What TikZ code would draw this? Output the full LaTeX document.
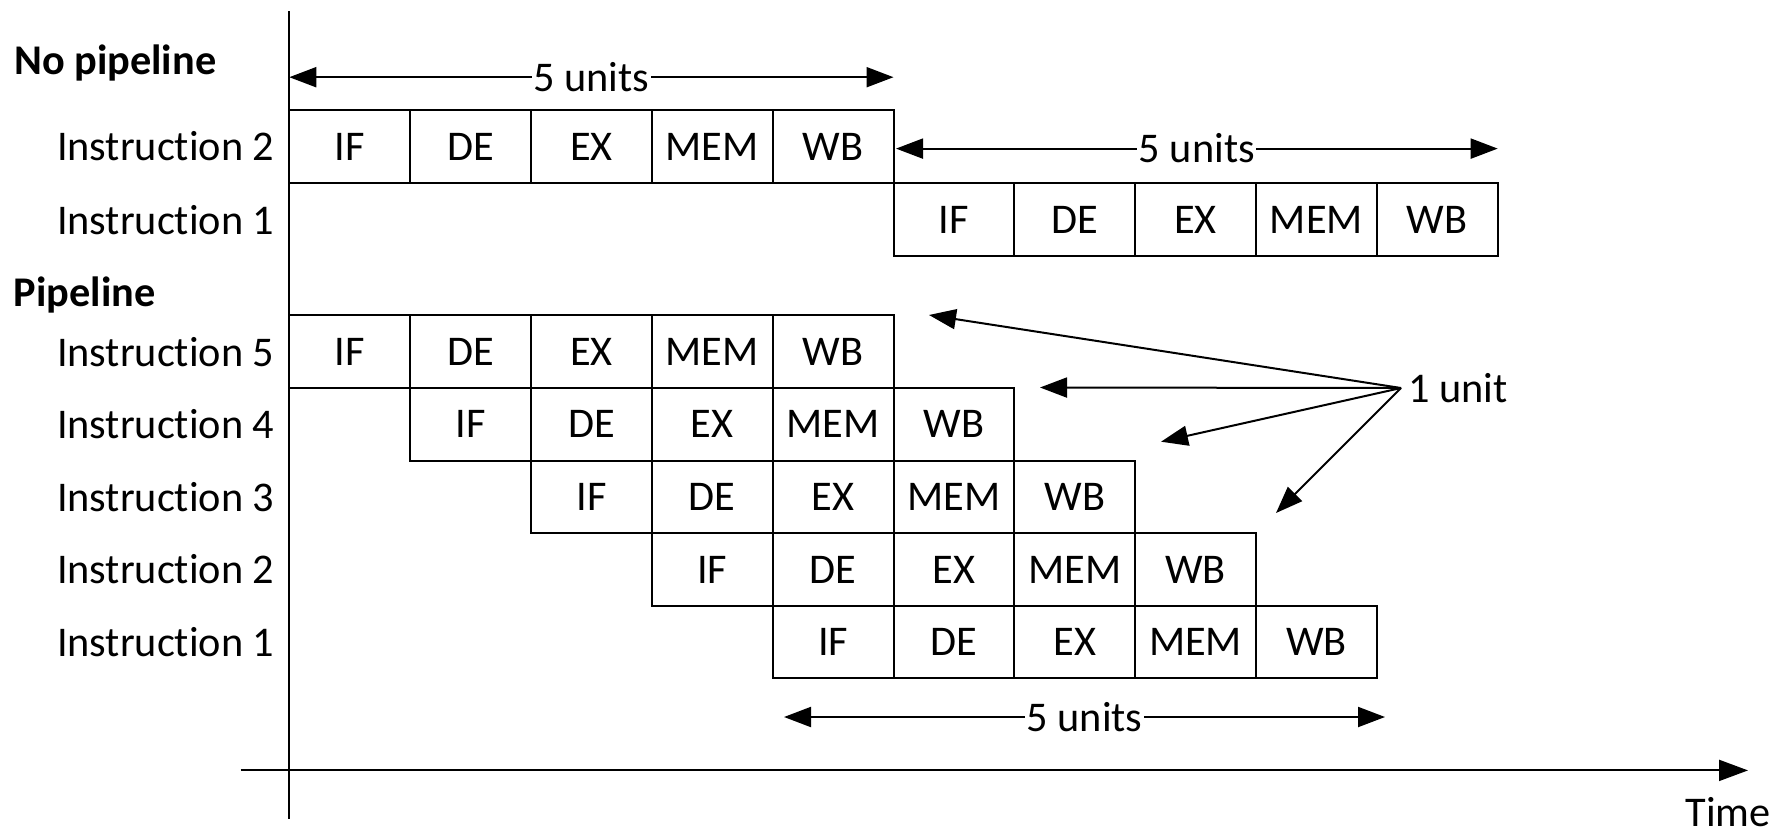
\documentclass[tikz,border=0pt]{standalone}
\usepackage{fontspec}
\setmainfont[RawFeature={-liga;-clig;-dlig;-calt}]{Carlito}
\usetikzlibrary{arrows.meta}
\begin{document}
\begin{tikzpicture}[x=1pt,y=-1pt,
  txt/.style={font=\fontsize{42.3}{48}\selectfont},
  cell/.style={txt, draw, line width=2pt, minimum width=120.84pt, minimum height=73.2pt,
    inner sep=0pt, outer sep=0pt, anchor=north west},
  lbl/.style={txt, anchor=east, inner sep=0pt},
  hdr/.style={font=\fontsize{42.3}{48}\selectfont\bfseries, anchor=base west, inner sep=0pt},
  dimarrow/.style={line width=2pt, {Triangle[length=27pt,width=20pt]}-{Triangle[length=27pt,width=20pt]}},
  dimlbl/.style={txt, fill=white, inner sep=1.5pt},
  ptr/.style={line width=2pt, -{Triangle[length=27pt,width=20pt]}},
  axis/.style={line width=2pt}
]
\useasboundingbox (0,0) rectangle (1779,835);
\def\U{120.84}
% axes
\coordinate (ytop) at (289.3,11);
\coordinate (ybot) at (289.3,819);
\draw[axis] (ytop) -- (ybot);
\coordinate (xl) at (240.5,770.4);
\coordinate (xr) at (1748,770.4);
\draw[axis,-{Triangle[length=29pt,width=21pt]}] (xl) -- (xr);
\node[txt, inner sep=0pt] (time) at (1728,812) {Time};

% headers
\node[hdr] (hnp) at (14,74) {No pipeline};
\node[hdr] (hp) at (13.5,306) {Pipeline};

% no pipeline
\node[lbl] (lna) at (274.6,146.6) {Instruction 2};
\node[lbl] (lnb) at (274.6,219.8) {Instruction 1};
\foreach \s [count=\i from 0] in {IF,DE,EX,MEM,WB} {
  \node[cell] (na\i) at ({289.3+\i*\U},110) {\s};
  \node[cell] (nb\i) at ({289.3+(\i+5)*\U},183.2) {\s};
}

% pipeline
\foreach \k/\n in {0/5,1/4,2/3,3/2,4/1} {
  \node[lbl] (lp\n) at (274.6,{351.7+\k*72.6}) {Instruction \n};
  \foreach \s [count=\i from 0] in {IF,DE,EX,MEM,WB} {
    \node[cell, minimum height=72.6pt] (p\k-\i) at ({289.3+(\k+\i)*\U},{315.4+\k*72.6}) {\s};
  }
}

% 5 units arrows
\coordinate (d1a) at (289.3,77.2);
\coordinate (d1b) at (893.5,77.2);
\draw[dimarrow] (d1a) -- node[dimlbl] (d1l) {5 units} (d1b);
\coordinate (d2a) at (896,148.6);
\coordinate (d2b) at (1497.7,148.6);
\draw[dimarrow] (d2a) -- node[dimlbl] (d2l) {5 units} (d2b);
\coordinate (d3a) at (784,717);
\coordinate (d3b) at (1385,717);
\draw[dimarrow] (d3a) -- node[dimlbl] (d3l) {5 units} (d3b);

% 1 unit pointers
\coordinate (hub) at (1401,388);
\node[txt, anchor=west, inner sep=0pt] (unit) at (1408,388) {1 unit};
\coordinate (t1) at (929,315);
\coordinate (t2) at (1040,387.5);
\coordinate (t3) at (1161,441.7);
\coordinate (t4) at (1276,513);
\foreach \t in {t1,t2,t3,t4} \draw[ptr] (hub) -- (\t);
\end{tikzpicture}
\end{document}
